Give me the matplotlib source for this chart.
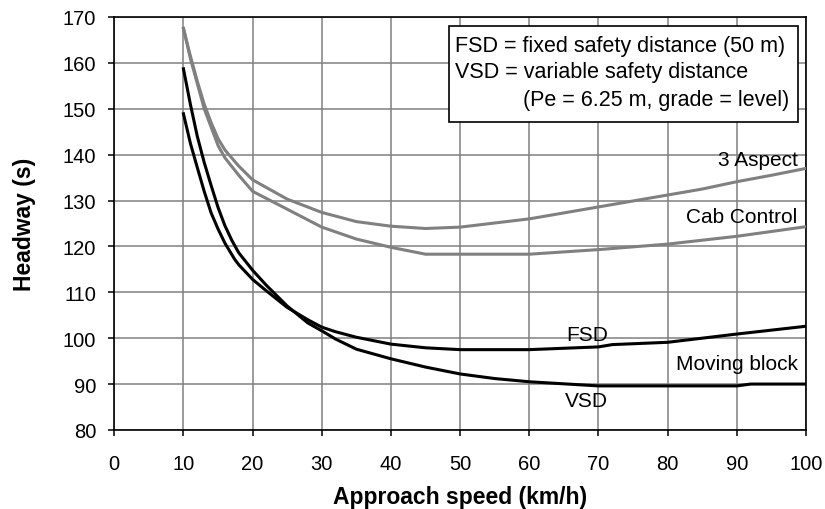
import matplotlib
matplotlib.use('Agg')
import matplotlib.pyplot as plt
from matplotlib.patches import Rectangle

plt.rcParams['font.family'] = ['Liberation Sans', 'DejaVu Sans']

# Values
speed_3asp = [10, 11, 12, 13, 14, 15, 16, 18, 20, 25, 30, 35, 40, 45, 50, 60, 70, 80, 85, 90, 95, 100]
headway_3asp = [167.5, 161.5, 156, 151, 147, 143.5, 141, 137.5, 134.5, 130.3, 127.4, 125.4, 124.4,
                123.9, 124.2, 126.0, 128.6, 131.2, 132.5, 134.1, 135.5, 137.0]

speed_cab = [10, 11, 12, 13, 14, 15, 16, 18, 20, 25, 30, 35, 40, 45, 50, 60, 70, 80, 90, 100]
headway_cab = [167.5, 161, 155.5, 150, 146, 142, 139.3, 135.5, 132, 128.1, 124.2, 121.6, 119.8,
               118.3, 118.3, 118.3, 119.3, 120.5, 122.2, 124.3]

speed_fsd = [10, 11, 12, 13, 14, 15, 16, 17.4, 18, 20, 22, 25, 28, 30, 32, 35, 40, 45, 50, 60,
             70, 72, 80, 90, 100]
headway_fsd = [148.9, 142.5, 137.2, 132, 127.3, 123.8, 120.7, 117.2, 116, 112.8, 110.3, 106.7, 104,
               102.4, 101.4, 100.2, 98.7, 97.9, 97.5, 97.5, 98.1, 98.6, 99.1, 100.9, 102.6]

speed_vsd = [10, 11, 12, 13, 14, 15, 16, 17, 18, 20, 22, 25, 28, 30, 32, 35, 40, 45, 50, 55, 60,
             70, 80, 90, 92, 100]
headway_vsd = [158.7, 151, 144, 138.3, 133.3, 128.5, 124.5, 121.3, 118.6, 114.8, 111.5, 107, 103.3,
               101.6, 99.8, 97.6, 95.5, 93.7, 92.2, 91.2, 90.5, 89.6, 89.6, 89.6, 90.0, 90.0]

x_ticks = list(range(0, 101, 10))
y_ticks = list(range(80, 171, 10))

gray = '#808080'


def create_plot():
    fig = plt.figure(figsize=(8.25, 5.1), dpi=100)
    ax = fig.add_axes([0.1385, 0.155, 0.8385, 0.8098])

    ax.plot(speed_3asp, headway_3asp, color=gray, lw=2.2, zorder=3)
    ax.plot(speed_cab, headway_cab, color=gray, lw=2.2, zorder=3)
    ax.plot(speed_fsd, headway_fsd, color='black', lw=2.2, zorder=3)
    ax.plot(speed_vsd, headway_vsd, color='black', lw=2.2, zorder=3)

    ax.set_xlim(0, 100)
    ax.set_ylim(80, 170)
    ax.set_xticks(x_ticks)
    ax.set_yticks(y_ticks)
    ax.grid(True, color=gray, lw=1.1)
    ax.set_axisbelow(True)
    for s in ax.spines.values():
        s.set_linewidth(1.2)
        s.set_color('black')
    ax.tick_params(axis='x', direction='out', length=4, width=1.1, pad=13, labelsize=14.5)
    ax.tick_params(axis='y', direction='out', length=4, width=1.1, pad=9, labelsize=14.5)

    ax.set_xlabel('Approach speed (km/h)', fontsize=16.5, fontweight='bold', labelpad=9)
    ax.set_ylabel('Headway (s)', fontsize=16.5, fontweight='bold', labelpad=19)

    fs = 15
    ax.text(98.8, 139, '3 Aspect', ha='right', va='center', fontsize=fs)
    ax.text(98.8, 126.6, 'Cab Control', ha='right', va='center', fontsize=fs)
    ax.text(68.3, 100.9, 'FSD', ha='center', va='center', fontsize=fs)
    ax.text(98.8, 94.4, 'Moving block', ha='right', va='center', fontsize=fs)
    ax.text(68.2, 86.4, 'VSD', ha='center', va='center', fontsize=fs)

    # note box
    ax.add_patch(Rectangle((0.484, 0.746), 0.504, 0.232, transform=ax.transAxes,
                           facecolor='white', edgecolor='black', lw=1.2, zorder=4))
    bs = 15.5
    ax.text(0.4925, 0.930, 'FSD = fixed safety distance (50 m)', transform=ax.transAxes,
            ha='left', va='center', fontsize=bs, zorder=5)
    ax.text(0.4925, 0.867, 'VSD = variable safety distance', transform=ax.transAxes,
            ha='left', va='center', fontsize=bs, zorder=5)
    ax.text(0.591, 0.801, '(Pe = 6.25 m, grade = level)', transform=ax.transAxes,
            ha='left', va='center', fontsize=bs, zorder=5)

    fig.savefig('out.png', dpi=100)


if __name__ == '__main__':
    create_plot()
